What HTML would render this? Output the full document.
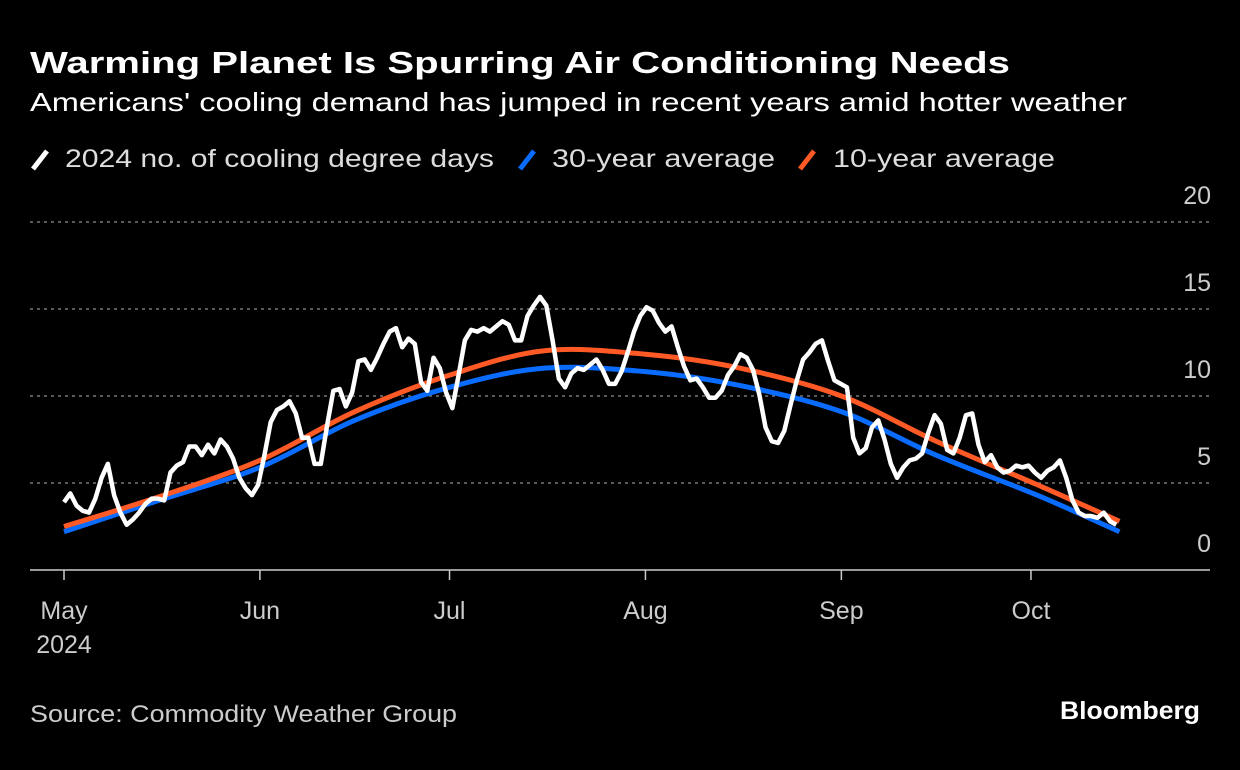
<!DOCTYPE html>
<html><head><meta charset="utf-8"><style>
body{margin:0;background:#000;width:1240px;height:770px;overflow:hidden;font-family:"Liberation Sans",sans-serif;color:#fff}
svg{position:absolute;left:0;top:0}
</style></head><body>
<svg id="c" width="1240" height="770">
<text x="30" y="73" font-size="31" font-weight="bold" fill="#fff" textLength="980" lengthAdjust="spacingAndGlyphs">Warming Planet Is Spurring Air Conditioning Needs</text>
<text x="30" y="111" font-size="26" fill="#fff" textLength="1097" lengthAdjust="spacingAndGlyphs">Americans' cooling demand has jumped in recent years amid hotter weather</text>
<g font-size="25" fill="#ddd">
<g><line x1="33" y1="169" x2="47" y2="151" stroke="#fff" stroke-width="5"/><text x="65" y="167" textLength="429" lengthAdjust="spacingAndGlyphs">2024 no. of cooling degree days</text></g>
<g><line x1="520" y1="169" x2="534" y2="151" stroke="#0a6cff" stroke-width="5"/><text x="552" y="167" textLength="223" lengthAdjust="spacingAndGlyphs">30-year average</text></g>
<g><line x1="800" y1="169" x2="814" y2="151" stroke="#ff5a26" stroke-width="5"/><text x="833" y="167" textLength="222" lengthAdjust="spacingAndGlyphs">10-year average</text></g>
</g>
<g id="grid"></g><g id="series"></g>
<text x="30" y="722" font-size="24" fill="#ccc" textLength="427" lengthAdjust="spacingAndGlyphs">Source: Commodity Weather Group</text>
<text x="1200" y="719" font-size="25" font-weight="bold" fill="#fff" text-anchor="end" textLength="140" lengthAdjust="spacingAndGlyphs">Bloomberg</text>
</svg>
<script>
const yTicks=[0,5,10,15,20];
const monthLabels=["May","Jun","Jul","Aug","Sep","Oct"];
const monthDays=[0,31,61,92,123,153];
const avgDays=[0,15,31,46,61,76,92,107,123,138,154,167];
const avg30=[2.2,4.0,5.9,8.6,10.5,11.6,11.4,10.6,9.1,6.6,4.3,2.2];
const avg10=[2.5,4.2,6.3,9.1,11.2,12.6,12.4,11.6,10.0,7.4,4.9,2.8];
const cdd2024=[3.9,4.4,3.7,3.4,3.3,4.1,5.3,6.1,4.3,3.3,2.6,2.9,3.3,3.8,4.1,4.1,4.0,5.6,6.0,6.2,7.1,7.1,6.6,7.2,6.7,7.5,7.1,6.4,5.3,4.7,4.3,4.9,6.6,8.5,9.2,9.4,9.7,9.0,7.6,7.6,6.1,6.1,8.3,10.3,10.4,9.4,10.2,12.0,12.1,11.5,12.2,13.0,13.7,13.9,12.8,13.3,13.0,10.8,10.3,12.2,11.6,10.2,9.3,11.2,13.2,13.8,13.7,13.9,13.7,14.0,14.3,14.1,13.2,13.2,14.6,15.2,15.7,15.2,13.2,11.0,10.5,11.3,11.6,11.5,11.8,12.1,11.5,10.7,10.7,11.4,12.5,13.7,14.6,15.1,14.9,14.2,13.7,14.0,12.8,11.7,10.9,11.0,10.5,9.9,9.9,10.3,11.2,11.7,12.4,12.2,11.5,10.1,8.2,7.4,7.3,8.0,9.5,10.9,12.1,12.5,13.0,13.2,12.0,10.9,10.7,10.5,7.6,6.7,7.0,8.2,8.6,7.5,6.1,5.3,5.9,6.3,6.4,6.7,7.9,8.9,8.4,6.9,6.7,7.6,8.9,9.0,7.2,6.2,6.6,5.9,5.6,5.7,6.0,5.9,6.0,5.6,5.3,5.7,5.9,6.3,5.3,4.0,3.3,3.1,3.1,3.0,3.3,2.8,2.6];
const lastDay=166.5;
const X=d=>64+d*6.32, Y=v=>570-v*17.4;
const NS="http://www.w3.org/2000/svg";
const grid=document.getElementById('grid'), ser=document.getElementById('series');
function mk(t,a,p){const e=document.createElementNS(NS,t);for(const k in a)e.setAttribute(k,a[k]);p.appendChild(e);return e;}
yTicks.forEach(v=>{
 if(v>0){const l=mk('line',{x1:30,x2:1210,y1:Y(v),y2:Y(v),stroke:'#777','stroke-width':1.5,'stroke-dasharray':'3 4'},grid);
 
 }
 const t=mk('text',{x:1211,y:Y(v)-18,'font-size':25,fill:'#ccc','text-anchor':'end'},grid);t.textContent=v;
 
 
});
const ax=mk('line',{x1:30,x2:1210,y1:570,y2:570,stroke:'#ccc','stroke-width':1.5},grid);


monthLabels.forEach((m,i)=>{
 const x=X(monthDays[i]);
 const tk=mk('line',{x1:x,x2:x,y1:570,y2:580,stroke:'#ccc','stroke-width':1.5},grid);
 
 
 const t=mk('text',{x:x,y:619,'font-size':25,fill:'#ccc','text-anchor':'middle'},grid);t.textContent=m;
 
 
});
const yr=mk('text',{x:X(0),y:653,'font-size':25,fill:'#ccc','text-anchor':'middle'},grid);yr.textContent='2024';


function smooth(pts){let d='M'+pts[0][0]+','+pts[0][1];for(let i=0;i<pts.length-1;i++){const p0=pts[i-1]||pts[i],p1=pts[i],p2=pts[i+1],p3=pts[i+2]||p2;
 d+=` C${p1[0]+(p2[0]-p0[0])/6},${p1[1]+(p2[1]-p0[1])/6} ${p2[0]-(p3[0]-p1[0])/6},${p2[1]-(p3[1]-p1[1])/6} ${p2[0]},${p2[1]}`;}return d;}
const b=mk('path',{d:smooth(avgDays.map((d,i)=>[X(d),Y(avg30[i])])),fill:'none',stroke:'#0a6cff','stroke-width':5},ser);


const o=mk('path',{d:smooth(avgDays.map((d,i)=>[X(d),Y(avg10[i])])),fill:'none',stroke:'#ff5a26','stroke-width':5},ser);


const n=cdd2024.length;
const w=mk('path',{d:'M'+cdd2024.map((v,i)=>X(i*lastDay/(n-1))+','+Y(v)).join(' L'),fill:'none',stroke:'#fff','stroke-width':4.5,'stroke-linejoin':'round'},ser);


</script>
</body></html>
